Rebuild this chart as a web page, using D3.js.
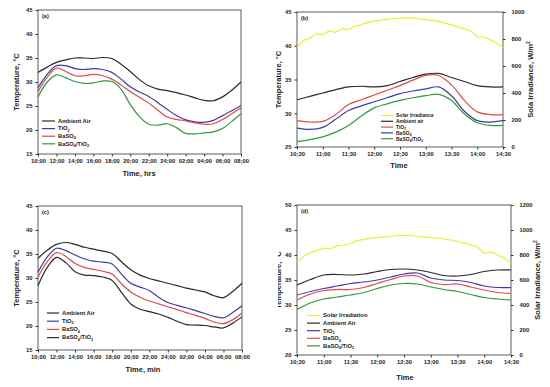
<!DOCTYPE html>
<html>
<head>
<meta charset="utf-8">
<script src="https://cdn.jsdelivr.net/npm/d3@7"></script>
<style>
  body { margin: 0; background: #fff; }
  svg text { font-family: "Liberation Sans", Arial, sans-serif; font-weight: bold; fill: #222; }
</style>
</head>
<body>
<div id="chart"></div>
<script>
// ---- Data ----
// Panels (a), (c): hourly readings, 10:00 -> 08:00 next day
const nightHours = d3.range(0, 23);
const nightTicks = ["10;00", "12;00", "14;00", "16;00", "18;00", "20;00", "22;00", "24;00", "02;00", "04;00", "06;00", "08;00"];

const aAmbient = [32.0, 33.1, 34.1, 34.6, 35.0, 35.0, 34.9, 35.1, 34.9, 33.7, 32.2, 30.5, 29.2, 28.5, 28.2, 27.8, 27.3, 26.7, 26.2, 26.1, 26.9, 28.3, 30.0];
const aTiO2 = [28.8, 31.6, 33.4, 33.4, 32.8, 32.6, 32.8, 32.6, 32.0, 30.6, 29.0, 27.9, 27.0, 25.7, 24.3, 23.0, 22.1, 21.7, 21.6, 22.0, 23.0, 24.0, 25.1];
const aBaSO4 = [28.0, 31.0, 32.9, 32.2, 31.3, 31.3, 31.6, 31.3, 30.6, 29.4, 28.0, 26.8, 25.6, 24.1, 22.7, 22.2, 21.9, 21.5, 21.2, 21.3, 22.2, 23.4, 24.6];
const aMix = [26.9, 30.0, 31.5, 30.9, 30.1, 29.7, 29.8, 30.2, 30.1, 28.5, 25.3, 22.8, 21.2, 21.0, 21.3, 20.5, 19.3, 19.2, 19.4, 19.6, 20.3, 21.8, 23.4];

const cAmbient = [34.1, 35.8, 37.0, 37.4, 37.0, 36.4, 36.0, 35.6, 35.1, 33.4, 31.7, 30.6, 29.9, 29.4, 28.9, 28.4, 27.9, 27.5, 27.1, 26.3, 25.9, 27.2, 28.9];
const cTiO2 = [31.2, 34.4, 36.2, 35.7, 34.8, 34.0, 33.5, 33.3, 32.9, 30.8, 28.9, 28.1, 27.4, 26.0, 24.9, 24.3, 23.8, 23.2, 22.6, 22.0, 21.7, 22.8, 24.2];
const cBaSO4 = [30.2, 33.4, 35.3, 34.5, 33.0, 32.2, 31.8, 31.4, 30.8, 28.8, 27.1, 26.0, 25.2, 24.6, 24.0, 23.4, 22.8, 22.2, 21.6, 20.8, 20.5, 21.3, 22.7];
const cMix = [28.4, 32.2, 34.3, 33.2, 31.3, 30.6, 30.5, 30.2, 29.5, 27.0, 24.6, 23.5, 23.0, 22.5, 21.8, 21.0, 20.3, 20.2, 20.1, 19.8, 19.6, 20.6, 21.9];

// Panels (b), (d): minutes after 10:30
const dayMinutes = d3.range(0, 241, 15);
const dayTicks = ["10;30", "11;00", "11;30", "12;00", "12;30", "13;00", "13;30", "14;00", "14;30"];
const sunMinutes = d3.range(0, 241, 7.5);

const bSolar = [741, 790, 805, 840, 830, 862, 850, 875, 870, 895, 905, 925, 932, 940, 945, 950, 955, 957, 955, 950, 944, 938, 930, 918, 905, 890, 875, 858, 815, 815, 795, 770, 738];
const bAmbient = [32.0, 32.5, 33.0, 33.5, 33.9, 34.0, 33.9, 34.1, 34.7, 35.3, 35.8, 35.9, 35.3, 34.7, 34.1, 33.9, 33.9];
const bTiO2 = [28.9, 28.7, 28.8, 29.8, 31.3, 32.0, 32.7, 33.4, 34.1, 34.9, 35.6, 35.6, 34.2, 31.9, 30.2, 29.8, 29.8];
const bBaSO4 = [27.8, 27.6, 27.9, 29.1, 30.4, 31.1, 31.7, 32.3, 32.9, 33.3, 33.6, 33.9, 32.6, 30.3, 28.9, 28.7, 28.9];
const bMix = [25.8, 26.1, 26.5, 27.2, 28.2, 29.6, 30.8, 31.4, 31.9, 32.3, 32.6, 32.8, 31.9, 29.9, 28.6, 28.2, 28.2];

const dSolar = [745, 790, 820, 835, 855, 850, 875, 880, 890, 915, 925, 935, 940, 945, 950, 955, 958, 955, 950, 945, 940, 935, 928, 920, 908, 895, 880, 865, 812, 825, 800, 775, 735];
const dAmbient = [34.0, 35.1, 36.0, 36.1, 36.0, 36.2, 36.7, 37.1, 37.2, 37.0, 36.5, 35.9, 35.8, 36.1, 36.7, 37.0, 37.0];
const dTiO2 = [32.0, 32.7, 33.3, 33.8, 34.3, 34.6, 35.0, 35.6, 36.2, 36.4, 35.4, 35.0, 34.9, 34.5, 33.8, 33.5, 33.5];
const dBaSO4 = [31.0, 32.2, 32.9, 33.1, 33.1, 33.5, 34.3, 35.1, 35.8, 35.8, 34.5, 34.1, 34.2, 33.6, 33.0, 32.5, 32.3];
const dMix = [29.1, 30.4, 31.2, 31.6, 32.0, 32.5, 33.3, 34.0, 34.3, 34.2, 33.6, 33.1, 32.7, 32.1, 31.5, 31.2, 31.0];

// ---- Style ----
const black = "#2a2a2a";
const blue = "#3d3da8";
const red = "#e04a4a";
const green = "#2f9a3f";
const yellow = "#eeee30";

const svg = d3.select("#chart").append("svg")
  .attr("width", 550).attr("height", 387)
  .attr("viewBox", [0, 0, 550, 387]);

// text with "_x" subscripts and "^x" superscripts
function richText(sel, str, size) {
  const parts = str.split(/([_^].)/).filter((s) => s !== "");
  let shift = 0;
  parts.forEach((p) => {
    if (p[0] === "_" || p[0] === "^") {
      const off = p[0] === "_" ? size * 0.25 : -size * 0.4;
      sel.append("tspan").attr("font-size", size * 0.65).attr("dy", off - shift).text(p[1]);
      shift = off;
    } else {
      sel.append("tspan").attr("dy", -shift).text(p);
      shift = 0;
    }
  });
}

function panel(p) {
  const g = svg.append("g");
  const x = d3.scaleLinear(p.xDomain, [p.x0, p.x1]);
  const y = d3.scaleLinear(p.yDomain, [p.y1, p.y0]);

  // frame
  g.append("rect")
    .attr("x", p.x0).attr("y", p.y0)
    .attr("width", p.x1 - p.x0).attr("height", p.y1 - p.y0)
    .attr("fill", "none").attr("stroke", "#333").attr("stroke-width", 0.8);

  const styleAxis = (ax) => {
    ax.select(".domain").remove();
    ax.selectAll("line").attr("stroke", "#333");
    ax.selectAll("text").attr("font-size", 5.8).attr("fill", "#222");
  };

  g.append("g").attr("transform", `translate(0,${p.y1})`)
    .call(d3.axisBottom(x).tickValues(p.xTickValues)
      .tickFormat((d, i) => p.xTicks[i]).tickSize(2.5).tickPadding(2.5))
    .call(styleAxis);
  g.append("g").attr("transform", `translate(${p.x0},0)`)
    .call(d3.axisLeft(y).tickValues(d3.range(p.yDomain[0], p.yDomain[1] + 1, 5))
      .tickSize(2.5).tickPadding(3))
    .call(styleAxis);

  // right axis for irradiance
  if (p.y2Domain) {
    const y2 = d3.scaleLinear(p.y2Domain, [p.y1, p.y0]);
    g.append("g").attr("transform", `translate(${p.x1},0)`)
      .call(d3.axisRight(y2).tickValues(d3.range(0, p.y2Domain[1] + 1, 200))
        .tickFormat(d3.format("d")).tickSize(2.5).tickPadding(6))
      .call(styleAxis);
    const t = g.append("text")
      .attr("transform", `translate(${p.y2TitleX},${(p.y0 + p.y1) / 2}) rotate(-90)`)
      .attr("text-anchor", "middle").attr("font-size", 7.5);
    richText(t, p.y2Title, 7.5);
    g.append("path")
      .datum(p.solar)
      .attr("fill", "none").attr("stroke", yellow).attr("stroke-width", 1.2)
      .attr("d", d3.line((d, i) => x(sunMinutes[i]), (d) => y2(d)));
  }

  // series
  const line = d3.line((d, i) => x(p.xValues[i]), (d) => y(d)).curve(d3.curveCatmullRom);
  p.series.forEach((s) => {
    g.append("path").datum(s.values)
      .attr("fill", "none").attr("stroke", s.color).attr("stroke-width", 1.2)
      .attr("d", line);
  });

  // panel tag
  g.append("text").attr("x", p.x0 + 4).attr("y", p.y0 + 8)
    .attr("font-size", 5.5).text(p.tag);

  // titles
  g.append("text").attr("x", p.xTitleX).attr("y", p.xTitleY)
    .attr("text-anchor", "middle").attr("font-size", 7.5).text(p.xTitle);

  const clipId = "clip-" + p.tag.replace(/\W/g, "");
  svg.append("clipPath").attr("id", clipId)
    .append("rect").attr("x", p.clipLeft).attr("y", 0).attr("width", 60).attr("height", 387);
  const yt = g.append("g").attr("clip-path", `url(#${clipId})`)
    .append("text")
    .attr("transform", `translate(${p.yTitleX},${(p.y0 + p.y1) / 2}) rotate(-90)`)
    .attr("text-anchor", "middle").attr("font-size", 7.5);
  richText(yt, "Temperature, °C", 7.5);

  // legend
  const legend = g.append("g");
  const items = (p.solar ? [{ name: p.solarName, color: yellow }] : []).concat(p.series);
  items.forEach((s, i) => {
    const ly = p.legY + i * p.legStep;
    legend.append("line")
      .attr("x1", p.legX).attr("x2", p.legX + p.legLen)
      .attr("y1", ly).attr("y2", ly)
      .attr("stroke", s.color).attr("stroke-width", 1.2);
    const t = legend.append("text")
      .attr("x", p.legX + p.legLen + 3).attr("y", ly + 1.8)
      .attr("font-size", p.legFont);
    richText(t, s.name, p.legFont);
  });
}

panel({
  tag: "(a)", x0: 38, x1: 241, y0: 10, y1: 154,
  xDomain: [0, 22], xValues: nightHours, xTickValues: d3.range(0, 23, 2), xTicks: nightTicks,
  yDomain: [15, 45],
  xTitle: "Time, hrs", xTitleX: 139, xTitleY: 176,
  yTitleX: 19, clipLeft: 0,
  series: [
    { name: "Ambient Air", color: black, values: aAmbient },
    { name: "TiO_2", color: blue, values: aTiO2 },
    { name: "BaSO_4", color: red, values: aBaSO4 },
    { name: "BaSO_4/TiO_2", color: green, values: aMix },
  ],
  legX: 42, legLen: 13, legY: 121, legStep: 7.6, legFont: 5.8,
});

panel({
  tag: "(b)", x0: 297, x1: 503, y0: 12, y1: 147,
  xDomain: [0, 240], xValues: dayMinutes, xTickValues: d3.range(0, 241, 30), xTicks: dayTicks,
  yDomain: [25, 45], y2Domain: [0, 1000],
  solar: bSolar, solarName: "Solar Irradiance",
  y2Title: "Sola Irradiance, W/m^2", y2TitleX: 533,
  xTitle: "Time", xTitleX: 399, xTitleY: 168,
  yTitleX: 281, clipLeft: 276,
  series: [
    { name: "Ambient air", color: black, values: bAmbient },
    { name: "TiO_2", color: red, values: bTiO2 },
    { name: "BaSO_4", color: blue, values: bBaSO4 },
    { name: "BaSO_4/TiO_2", color: green, values: bMix },
  ],
  legX: 381, legLen: 12, legY: 115.5, legStep: 5.8, legFont: 5,
});

panel({
  tag: "(c)", x0: 38, x1: 242, y0: 206, y1: 350,
  xDomain: [0, 22], xValues: nightHours, xTickValues: d3.range(0, 23, 2), xTicks: nightTicks,
  yDomain: [15, 45],
  xTitle: "Time, min", xTitleX: 143, xTitleY: 372,
  yTitleX: 19, clipLeft: 0,
  series: [
    { name: "Ambient Air", color: black, values: cAmbient },
    { name: "TiO_2", color: blue, values: cTiO2 },
    { name: "BaSO_4", color: red, values: cBaSO4 },
    { name: "BaSO_4/TiO_2", color: black, values: cMix },
  ],
  legX: 47, legLen: 12, legY: 313, legStep: 8.2, legFont: 5.8,
});

panel({
  tag: "(d)", x0: 297, x1: 511, y0: 205, y1: 355,
  xDomain: [0, 240], xValues: dayMinutes, xTickValues: d3.range(0, 241, 30), xTicks: dayTicks,
  yDomain: [20, 50], y2Domain: [0, 1200],
  solar: dSolar, solarName: "Solar Irradiation",
  y2Title: "Solar Irradiance, W/m^2", y2TitleX: 540,
  xTitle: "Time", xTitleX: 405, xTitleY: 380,
  yTitleX: 281, clipLeft: 278,
  series: [
    { name: "Ambient Air", color: black, values: dAmbient },
    { name: "TiO_2", color: blue, values: dTiO2 },
    { name: "BaSO_4", color: red, values: dBaSO4 },
    { name: "BaSO_4/TiO_2", color: green, values: dMix },
  ],
  legX: 307, legLen: 13, legY: 315.5, legStep: 7.6, legFont: 5.8,
});
</script>
</body>
</html>
